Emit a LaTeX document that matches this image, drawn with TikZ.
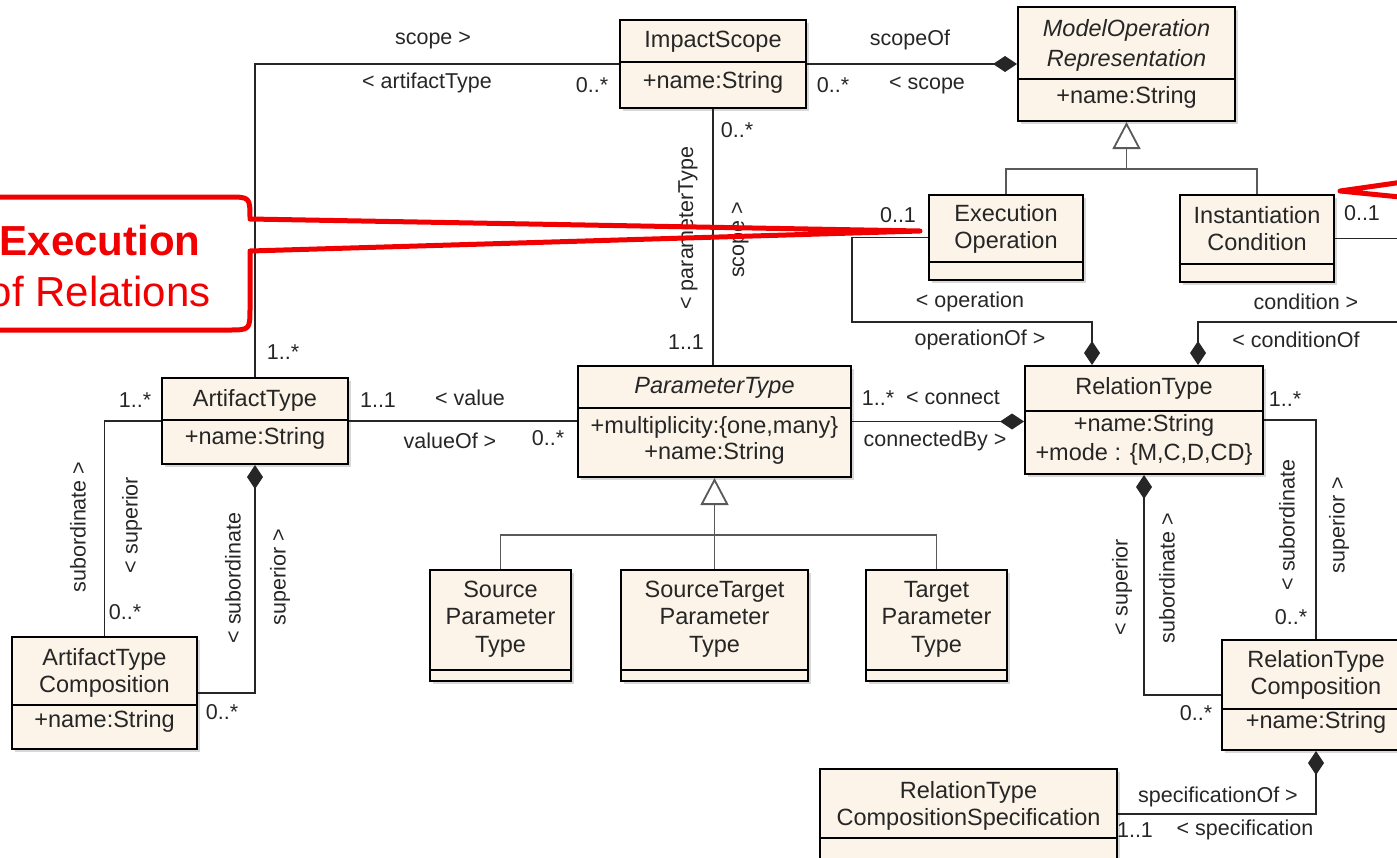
\documentclass[tikz,border=0pt]{standalone}
\usepackage{fontspec}
\setmainfont{Liberation Sans}
\usetikzlibrary{arrows.meta,fit,shadows,calc}
\definecolor{boxfill}{HTML}{FCF4E8}
\definecolor{callred}{HTML}{F00000}
\definecolor{ink}{HTML}{262626}
\tikzset{
  cls/.style={draw=black, line width=1pt, fill=boxfill, inner sep=0pt,
    drop shadow={shadow xshift=1.5pt, shadow yshift=-1.5pt, fill=black!30, opacity=0.5}},
  ctext/.style={font=\fontsize{11.75}{13.5}\selectfont, text=ink, align=center, inner sep=0pt},
  lbl/.style={font=\fontsize{10.75}{12}\selectfont, text=ink, inner sep=0pt},
  vlbl/.style={lbl, rotate=90},
  conn/.style={line width=0.9pt, draw=black!85},
  gen/.style={line width=0.9pt, draw=black!65},
  comp/.style={-{Diamond[length=12pt,width=8pt]}},
  compstart/.style={{Diamond[length=12pt,width=8pt]}-},
  tri/.style={-{Triangle[open,length=13.5pt,width=14pt,fill=white]}},
  divl/.style={line width=0.9pt, draw=black},
  callout/.style={draw=callred, line width=2.5pt, line join=round},
  calltext/.style={text=callred, inner sep=0pt, font=\fontsize{21}{24}\selectfont},
}
\begin{document}
\begin{tikzpicture}[x=0.5pt,y=-0.5pt]
\useasboundingbox (0,0) rectangle (1397,857);
\clip (0,0) rectangle (1397,857);

% ---------- classes ----------
\node[cls, fit={(620,20)(806,108)}] (IS) {};
\draw[divl] (620,62) -- (806,62);
\node[ctext] (ISt) at (713,42) {ImpactScope};
\node[ctext] (ISa) at (713,82) {+name:String};

\node[cls, fit={(1018,7)(1235,121)}] (MOR) {};
\draw[divl] (1018,79) -- (1235,79);
\node[ctext, font=\fontsize{11.75}{15}\selectfont\itshape] (MORt) at (1126.5,45) {ModelOperation\\Representation};
\node[ctext] (MORa) at (1126.5,97) {+name:String};

\node[cls, fit={(929,195)(1083,280)}] (EO) {};
\draw[divl] (929,262) -- (1083,262);
\node[ctext] (EOt) at (1006,229) {Execution\\Operation};

\node[cls, fit={(1180,195)(1334,282)}] (IC) {};
\draw[divl] (1180,264) -- (1334,264);
\node[ctext] (ICt) at (1257,229) {Instantiation\\Condition};

\node[cls, fit={(162,378)(348,464)}] (AT) {};
\draw[divl] (162,420) -- (348,420);
\node[ctext] (ATt) at (255,400) {ArtifactType};
\node[ctext] (ATa) at (255,438) {+name:String};

\node[cls, fit={(578,366)(851,477)}] (PT) {};
\draw[divl] (578,408) -- (851,408);
\node[ctext, font=\fontsize{11.75}{13.5}\selectfont\itshape] (PTt) at (714.5,388) {ParameterType};
\node[ctext, font=\fontsize{11.75}{13}\selectfont] (PTa) at (714.5,440) {+multiplicity:\{one,many\}\\+name:String};

\node[cls, fit={(1025,366)(1263,474)}] (RT) {};
\draw[divl] (1025,411) -- (1263,411);
\node[ctext] (RTt) at (1144,388) {RelationType};
\node[ctext, font=\fontsize{11.75}{14.5}\selectfont] (RTa) at (1144,440) {+name:String\\+mode : \{M,C,D,CD\}};

\node[cls, fit={(12,637)(197,749)}] (ATC) {};
\draw[divl] (12,705) -- (197,705);
\node[ctext] (ATCt) at (104.5,673) {ArtifactType\\Composition};
\node[ctext] (ATCa) at (104.5,721) {+name:String};

\node[cls, fit={(430,570)(571,681)}] (SPT) {};
\draw[divl] (430,670) -- (571,670);
\node[ctext, font=\fontsize{11.75}{13.75}\selectfont] (SPTt) at (500.5,619) {Source\\Parameter\\Type};

\node[cls, fit={(621,570)(808,681)}] (STPT) {};
\draw[divl] (621,670) -- (808,670);
\node[ctext, font=\fontsize{11.75}{13.75}\selectfont] (STPTt) at (714.5,619) {SourceTarget\\Parameter\\Type};

\node[cls, fit={(866,570)(1007,681)}] (TPT) {};
\draw[divl] (866,670) -- (1007,670);
\node[ctext, font=\fontsize{11.75}{13.75}\selectfont] (TPTt) at (936.5,619) {Target\\Parameter\\Type};

\node[cls, fit={(1222,640)(1410,750)}] (RTC) {};
\draw[divl] (1222,709) -- (1410,709);
\node[ctext] (RTCt) at (1316,675) {RelationType\\Composition};
\node[ctext] (RTCa) at (1316,722) {+name:String};

\node[cls, fit={(820,769)(1117,859)}] (RTCS) {};
\draw[divl] (820,838) -- (1117,838);
\node[ctext] (RTCSt) at (968.5,806) {RelationType\\CompositionSpecification};

% ---------- connectors ----------
\draw[conn] (IS.west) -| (AT.north);
\draw[conn, comp] (IS.east) -- (MOR.west);
\draw[conn] (IS.south) -- (IS.south |- PT.north);

\coordinate (g1) at (1126.5,169);
\draw[gen] (EO.north) |- (g1) -| (IC.north);
\draw[gen, tri] (g1) -- (MOR.south);

\coordinate (op1) at (852,322);
\coordinate (op2) at ($(RT.north west)+(68,0)$);
\draw[conn, comp] (EO.west) -| (op1) -| (op2);

\coordinate (cd1) at (1420,322);
\coordinate (cd2) at ($(RT.north west)+(174,0)$);
\draw[conn, comp] (IC.east) -| (cd1) -| (cd2);

\draw[conn, comp] (PT.east) -- (PT.east -| RT.west);
\draw[conn] (AT.east) -- (AT.east -| PT.west);
\draw[conn] (AT.west) -| (ATC.north);
\draw[conn, compstart] (AT.south) |- (ATC.east);

\coordinate (g2) at (714.5,535);
\draw[gen] (SPT.north) |- (g2) -| (TPT.north);
\draw[gen] (STPT.north) -- (g2);
\draw[gen, tri] (g2) -- (PT.south);

\draw[conn, compstart] (RT.south) |- (RTC.west);
\draw[conn] (RT.east) -| (RTC.north);
\draw[conn, compstart] (RTC.south) |- (RTCS.east);

% ---------- labels ----------
\node[lbl] (l1) at (433,40) {scope >};
\node[lbl] (l2) at (427,83) {< artifactType};
\node[lbl] (l3) at (592,85) {0..*};
\node[lbl] (l4) at (910,40) {scopeOf};
\node[lbl] (l5) at (833,85) {0..*};
\node[lbl] (l6) at (927,85) {< scope};
\node[lbl] (l7) at (737,130) {0..*};
\node[vlbl] (l8) at (688,228) {< parameterType};
\node[vlbl] (l9) at (740,240) {scope >};
\node[lbl] (l10) at (686,342) {1..1};
\node[lbl] (l11) at (898,215) {0..1};
\node[lbl] (l12) at (970,302) {< operation};
\node[lbl] (l13) at (980,340) {operationOf >};
\node[lbl] (l14) at (1306,302) {condition >};
\node[lbl] (l15) at (1296,340) {< conditionOf};
\node[lbl] (l16) at (1362,213) {0..1};
\node[lbl] (l17) at (283,352) {1..*};
\node[lbl] (l18) at (135,400) {1..*};
\node[lbl] (l19) at (378,400) {1..1};
\node[lbl] (l20) at (470,398) {< value};
\node[lbl] (l21) at (450,441) {valueOf >};
\node[lbl] (l22) at (548,438) {0..*};
\node[lbl] (l23) at (878,398) {1..*};
\node[lbl] (l24) at (953,398) {< connect};
\node[lbl] (l25) at (935,441) {connectedBy >};
\node[lbl] (l26) at (1285,399) {1..*};
\node[vlbl] (l27) at (78,527) {subordinate >};
\node[vlbl] (l28) at (132,525) {< superior};
\node[lbl] (l29) at (125,612) {0..*};
\node[vlbl] (l30) at (233,578) {< subordinate};
\node[vlbl] (l31) at (280,577) {superior >};
\node[lbl] (l32) at (222,712) {0..*};
\node[vlbl] (l33) at (1122,587) {< superior};
\node[vlbl] (l34) at (1167,578) {subordinate >};
\node[vlbl] (l35) at (1287,525) {< subordinate};
\node[vlbl] (l36) at (1339,525) {superior >};
\node[lbl] (l37) at (1291,617) {0..*};
\node[lbl] (l38) at (1196,713) {0..*};
\node[lbl] (l39) at (1218,797) {specificationOf >};
\node[lbl] (l40) at (1135,830) {1..1};
\node[lbl] (l41) at (1245,830) {< specification};

% ---------- red callouts ----------
\coordinate (tip1) at (920,231);
\draw[callout] (-20,197) -- (228,197) .. controls (250,197) .. (250,219) -- (tip1) -- (250,251)
  -- (250,308) .. controls (250,330) .. (228,330) -- (-20,330);
\node[calltext, anchor=east, font=\fontsize{21}{24}\selectfont\bfseries] (c1) at (201,240) {Execution};
\node[calltext, anchor=east] (c2) at (211,291) {of Relations};
\coordinate (tip2) at (1340,191);
\draw[callout] (1410,181) -- (tip2) -- (1410,198);
\end{tikzpicture}
\end{document}
